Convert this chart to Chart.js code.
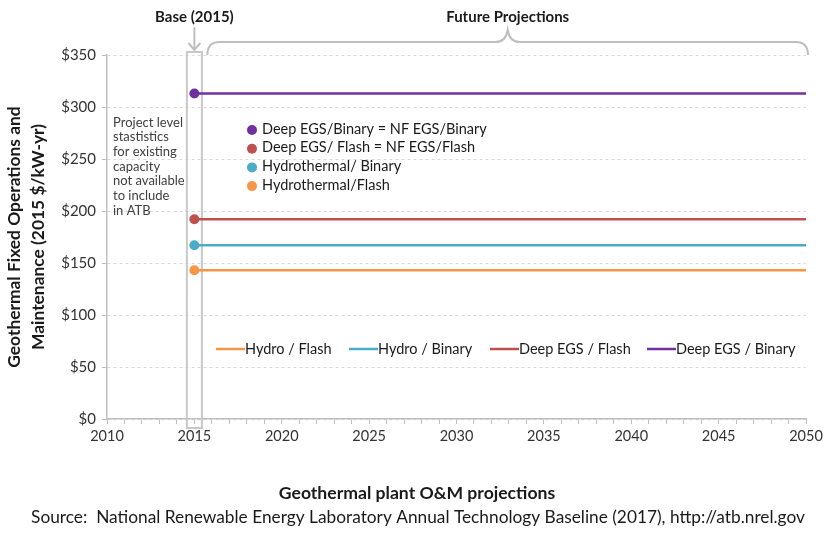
<!DOCTYPE html>
<html>
<head>
<meta charset="utf-8">
<script src="https://cdn.jsdelivr.net/npm/chart.js@4.4.1/dist/chart.umd.min.js"></script>
<style>
html,body{margin:0;padding:0;background:#fff;}
#wrap{width:835px;height:552px;position:relative;}
</style>
</head>
<body>
<div id="wrap"><canvas id="c" width="835" height="552"></canvas></div>
<script>
// ---- data ----
const projYears = [2015, 2050];
const hydroFlash = [143, 143];
const hydroBinary = [167, 167];
const deepEgsFlash = [192, 192];
const deepEgsBinary = [313, 313];
const seriesNames = ['Hydro / Flash', 'Hydro / Binary', 'Deep EGS / Flash', 'Deep EGS / Binary'];
const seriesColors = ['#F79646', '#4BACC6', '#C0504D', '#7030A0'];
const baseYear = 2015;
const baseValues = [143, 167, 192, 313];
const dotLegendLabels = ['Deep EGS/Binary = NF EGS/Binary', 'Deep EGS/ Flash = NF EGS/Flash', 'Hydrothermal/ Binary', 'Hydrothermal/Flash'];
const dotLegendColors = ['#7030A0', '#C0504D', '#4BACC6', '#F79646'];
const noteLines = ['Project level', 'stastistics', 'for existing', 'capacity', 'not available', 'to include', 'in ATB'];
const xMin = 2010, xMax = 2050, xStep = 5;
const yMin = 0, yMax = 350, yStep = 50;
const yTitle = ['Geothermal Fixed Operations and', 'Maintenance (2015 $/kW-yr)'];
const chartTitle = 'Geothermal plant O&M projections';
const sourceText = 'Source:  National Renewable Energy Laboratory Annual Technology Baseline (2017), http://atb.nrel.gov';
const baseLabel = 'Base (2015)';
const futureLabel = 'Future Projections';

const FONT = 'Lato, "Open Sans", sans-serif';
const seriesData = [hydroFlash, hydroBinary, deepEgsFlash, deepEgsBinary];

const datasets = seriesData.map((vals, i) => ({
  label: seriesNames[i],
  data: projYears.map((yr, j) => ({x: yr, y: vals[j]})),
  borderColor: seriesColors[i],
  backgroundColor: seriesColors[i],
  borderWidth: 2.5,
  showLine: true,
  pointRadius: 0,
  pointHoverRadius: 0
}));
baseValues.forEach((v, i) => {
  datasets.push({
    label: 'base-' + seriesNames[i],
    data: [{x: baseYear, y: v}],
    borderColor: seriesColors[i],
    backgroundColor: seriesColors[i],
    showLine: false,
    pointRadius: 5,
    pointBorderWidth: 0
  });
});

const deco = {
  id: 'deco',
  beforeDatasetsDraw(chart) {
    const {ctx, scales: {x, y}} = chart;
    const cx = x.getPixelForValue(baseYear);
    const top = y.getPixelForValue(yMax);
    const bot = y.getPixelForValue(yMin);
    ctx.save();
    ctx.strokeStyle = '#c8c8c8';
    ctx.lineWidth = 2;
    ctx.strokeRect(cx - 7.5, top - 3, 15, bot - top + 12);
    ctx.restore();
  },
  afterDraw(chart) {
    const {ctx, scales: {x, y}} = chart;
    const cx = x.getPixelForValue(baseYear);
    const top = y.getPixelForValue(yMax);
    ctx.save();
    // note text
    ctx.fillStyle = '#404040';
    ctx.font = '13px ' + FONT;
    ctx.textAlign = 'left';
    ctx.textBaseline = 'middle';
    noteLines.forEach((t, i) => ctx.fillText(t, x.left + 6, 122.5 + i * 14.7));
    // dot legend
    ctx.font = '14.5px ' + FONT;
    dotLegendLabels.forEach((t, i) => {
      const yy = 129 + i * 18.7;
      ctx.beginPath();
      ctx.fillStyle = dotLegendColors[i];
      ctx.arc(252, yy + 1, 5, 0, Math.PI * 2);
      ctx.fill();
      ctx.fillStyle = '#1a1a1a';
      ctx.fillText(t, 262, yy);
    });
    // bottom line legend
    const legX = [216, 349, 490, 647];
    ctx.font = '14.5px ' + FONT;
    seriesNames.forEach((t, i) => {
      ctx.strokeStyle = seriesColors[i];
      ctx.lineWidth = 2.5;
      ctx.beginPath();
      ctx.moveTo(legX[i], 349);
      ctx.lineTo(legX[i] + 29, 349);
      ctx.stroke();
      ctx.fillStyle = '#1a1a1a';
      ctx.fillText(t, legX[i] + 29, 349);
    });
    // arrow
    ctx.strokeStyle = '#bfbfbf';
    ctx.lineWidth = 2;
    ctx.beginPath();
    ctx.moveTo(cx, 27); ctx.lineTo(cx, top - 5);
    ctx.moveTo(cx - 6, top - 12); ctx.lineTo(cx, top - 5); ctx.lineTo(cx + 6, top - 12);
    ctx.stroke();
    // brace
    const bl = cx + 13, br = x.right + 2, bm = (bl + br) / 2, by = 42, r = 12;
    ctx.beginPath();
    ctx.moveTo(bl, top);
    ctx.quadraticCurveTo(bl, by, bl + r, by);
    ctx.lineTo(bm - 12, by);
    ctx.quadraticCurveTo(bm - 2, by, bm, 30);
    ctx.quadraticCurveTo(bm + 2, by, bm + 12, by);
    ctx.lineTo(br - r, by);
    ctx.quadraticCurveTo(br, by, br, top);
    ctx.stroke();
    // header labels
    ctx.fillStyle = '#1a1a1a';
    ctx.font = 'bold 15px ' + FONT;
    ctx.textAlign = 'center';
    ctx.fillText(baseLabel, cx, 17);
    ctx.fillText(futureLabel, bm, 17);
    // bottom titles
    ctx.font = 'bold 17.6px ' + FONT;
    ctx.fillText(chartTitle, 417, 493);
    ctx.font = '17.3px ' + FONT;
    ctx.fillText(sourceText, 418, 517);
    ctx.restore();
  }
};

new Chart(document.getElementById('c'), {
  type: 'scatter',
  data: {datasets},
  plugins: [deco],
  options: {
    responsive: false,
    animation: false,
    events: [],
    layout: {padding: {left: 3, right: 29, top: 55, bottom: 103}},
    plugins: {legend: {display: false}, tooltip: {enabled: false}},
    scales: {
      x: {
        type: 'linear', min: xMin, max: xMax,
        afterFit(s) { s.height = 30; },
        afterBuildTicks(s) {
          const t = [];
          for (let v = xMin; v <= xMax; v++) t.push({value: v});
          s.ticks = t;
        },
        ticks: {
          autoSkip: false, maxRotation: 0, padding: 4,
          color: '#333333', font: {family: FONT, size: 14.5},
          callback: v => (v % xStep === 0 ? String(v) : '')
        },
        grid: {drawOnChartArea: false, drawTicks: true, tickLength: 5, color: '#bfbfbf'},
        border: {color: '#bfbfbf', width: 1.5}
      },
      y: {
        min: yMin, max: yMax,
        afterFit(s) { s.width = 104; },
        ticks: {
          stepSize: yStep, padding: 6,
          color: '#333333', font: {family: FONT, size: 15},
          callback: v => '$' + v
        },
        grid: {color: '#d9d9d9', tickLength: 5, tickColor: '#bfbfbf', tickBorderDash: []},
        border: {color: '#bfbfbf', width: 1.5, dash: [3, 3]},
        title: {
          display: true, text: yTitle, color: '#1a1a1a',
          font: {family: FONT, size: 17.4, weight: 'bold', lineHeight: 1.35}, padding: {top: 0, bottom: 6}
        }
      }
    }
  }
});
</script>
</body>
</html>
